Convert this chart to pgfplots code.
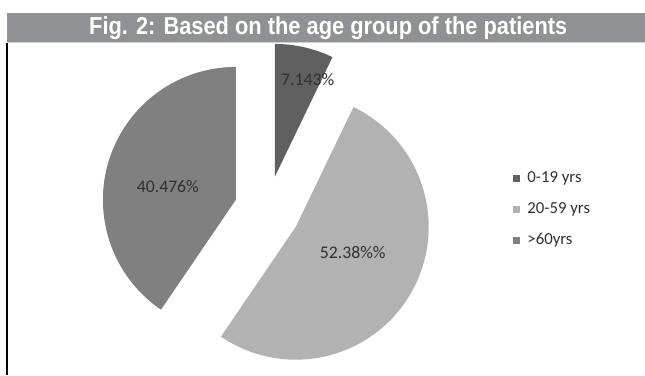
\documentclass[border=0pt]{standalone}
\usepackage{pgfplots}
\pgfplotsset{compat=1.18}
\usepackage{pgfplotstable}
\usepackage{fontspec}
\usepackage{graphicx}
\setmainfont{Carlito}
\newfontfamily\titlefont{Liberation Sans}
\definecolor{cA}{HTML}{606060}
\definecolor{cB}{HTML}{B2B2B2}
\definecolor{cC}{HTML}{808080}
\definecolor{band}{HTML}{8F9192}
\definecolor{txt}{HTML}{303030}

% slice centre (exploded), value in percent
\pgfplotstableread{
cx cy value
275 198 7.143
296 148 52.38
236 175 40.476
}\pietable

\begin{document}
\begin{tikzpicture}
\pgfplotstablegetelem{0}{value}\of\pietable \pgfmathsetmacro\va{\pgfplotsretval}
\pgfplotstablegetelem{1}{value}\of\pietable \pgfmathsetmacro\vb{\pgfplotsretval}
\pgfplotstablegetelem{2}{value}\of\pietable \pgfmathsetmacro\vc{\pgfplotsretval}
\pgfplotstablegetelem{0}{cx}\of\pietable \edef\cxa{\pgfplotsretval}
\pgfplotstablegetelem{0}{cy}\of\pietable \edef\cya{\pgfplotsretval}
\pgfplotstablegetelem{1}{cx}\of\pietable \edef\cxb{\pgfplotsretval}
\pgfplotstablegetelem{1}{cy}\of\pietable \edef\cyb{\pgfplotsretval}
\pgfplotstablegetelem{2}{cx}\of\pietable \edef\cxc{\pgfplotsretval}
\pgfplotstablegetelem{2}{cy}\of\pietable \edef\cyc{\pgfplotsretval}
\pgfmathsetmacro\aA{90}
\pgfmathsetmacro\aB{\aA-3.6*\va}
\pgfmathsetmacro\aC{\aB-3.6*\vb}
\pgfmathsetmacro\aD{\aC-3.6*\vc}
\def\R{99.75pt}
\begin{axis}[
  scale only axis, width=483.75pt, height=281.25pt,
  xmin=0, xmax=645, ymin=0, ymax=375,
  hide axis, clip=false,
  legend style={at={(axis cs:513,206)}, anchor=north west, draw=none, fill=none,
    font=\fontsize{12.6}{15}\selectfont, text=txt, row sep=9.5pt, column sep=4pt,
    inner sep=0pt, cells={anchor=west}},
]
\path (axis cs:0,0) rectangle (axis cs:645,375);
% title band
\fill[band] (axis cs:7,362) rectangle (axis cs:645,332.7);
\draw[gray!35, line width=0.75pt] (axis cs:7,332.3) -- (axis cs:645,332.3);
\draw[black, line width=0.9pt] (axis cs:7,332) -- (axis cs:7,0);
\node[anchor=base, text=white, font=\titlefont\bfseries\fontsize{18.4}{20}\selectfont]
  at (axis cs:328.5,340.7) {\scalebox{0.89}[1]{Fig. 2: Based on the age group of the patients}};
% pie slices
\fill[cA] (axis cs:\cxa,\cya) -- ++(\aA:\R) arc[start angle=\aA, end angle=\aB, radius=\R] -- cycle;
\fill[cB] (axis cs:\cxb,\cyb) -- ++(\aB:\R) arc[start angle=\aB, end angle=\aC, radius=\R] -- cycle;
\fill[cC] (axis cs:\cxc,\cyc) -- ++(\aC:\R) arc[start angle=\aC, end angle=\aD, radius=\R] -- cycle;
% data labels
\node[text=txt, font=\fontsize{13.3}{15}\selectfont] at (axis cs:308,295) {7.143\%};
\node[text=txt, font=\fontsize{13.3}{15}\selectfont] at (axis cs:168,188) {40.476\%};
\node[text=txt, font=\fontsize{13.3}{15}\selectfont] at (axis cs:353,122) {52.38\%\%};
% legend
\addlegendimage{legend image code/.code={\fill[cA] (0pt,-2.25pt) rectangle (4.5pt,2.25pt);}}
\addlegendentry{0-19 yrs}
\addlegendimage{legend image code/.code={\fill[cB] (0pt,-2.25pt) rectangle (4.5pt,2.25pt);}}
\addlegendentry{20-59 yrs}
\addlegendimage{legend image code/.code={\fill[cC] (0pt,-2.25pt) rectangle (4.5pt,2.25pt);}}
\addlegendentry{>60yrs}
\end{axis}
\end{tikzpicture}
\end{document}
